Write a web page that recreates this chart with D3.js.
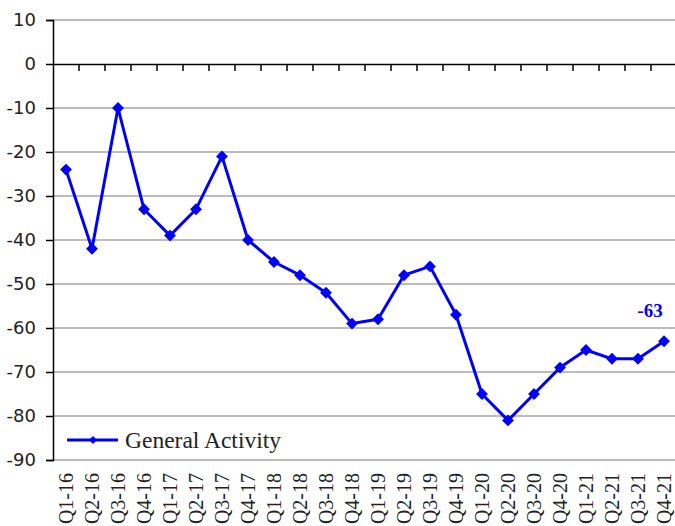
<!DOCTYPE html>
<html>
<head>
<meta charset="utf-8">
<script src="https://cdn.jsdelivr.net/npm/d3@7"></script>
<style>
  body { margin: 0; background: #fff; }
  svg { display: block; }
</style>
</head>
<body>
<div id="chart"></div>
<script>
const quarters = ["Q1-16", "Q2-16", "Q3-16", "Q4-16", "Q1-17", "Q2-17", "Q3-17", "Q4-17",
  "Q1-18", "Q2-18", "Q3-18", "Q4-18", "Q1-19", "Q2-19", "Q3-19", "Q4-19",
  "Q1-20", "Q2-20", "Q3-20", "Q4-20", "Q1-21", "Q2-21", "Q3-21", "Q4-21"];
const generalActivity = [-24, -42, -10, -33, -39, -33, -21, -40,
  -45, -48, -52, -59, -58, -48, -46, -57,
  -75, -81, -75, -69, -65, -67, -67, -63];
const yTicks = [10, 0, -10, -20, -30, -40, -50, -60, -70, -80, -90];
const seriesName = "General Activity";

const width = 675, height = 526;
const plotLeft = 53, plotTop = 20, plotBottom = 460;

const svg = d3.select("#chart").append("svg")
    .attr("width", width)
    .attr("height", height);

const x = d3.scaleBand().domain(quarters).range([plotLeft, plotLeft + 24 * 26]);
const y = d3.scaleLinear().domain([-90, 10]).range([plotBottom, plotTop]);

// gridlines
svg.append("g")
  .selectAll("line")
  .data(yTicks.filter(d => d !== 0))
  .join("line")
    .attr("x1", plotLeft).attr("x2", width)
    .attr("y1", d => y(d)).attr("y2", d => y(d))
    .attr("stroke", "#a6a6a6")
    .attr("stroke-width", 1.5);

// y axis
const yAxis = svg.append("g")
    .attr("transform", `translate(${plotLeft},0)`)
    .call(d3.axisLeft(y).tickValues(yTicks).tickSize(7).tickPadding(10).tickFormat(d => String(d)));
yAxis.select(".domain").attr("stroke", "#000").attr("stroke-width", 1.5);
yAxis.selectAll(".tick line").attr("stroke", "#000").attr("stroke-width", 1.5);
yAxis.selectAll("text")
    .attr("font-family", "DejaVu Sans")
    .attr("font-size", 18)
    .attr("fill", "#222");

// zero line with category ticks
const xAxis = svg.append("g")
    .attr("transform", `translate(0,${y(0)})`)
    .call(d3.axisBottom(x).tickSize(0).tickFormat(""));
xAxis.select(".domain").attr("stroke", "#000").attr("stroke-width", 1.5);
xAxis.selectAll(".tick").remove();
xAxis.selectAll("line.cat")
  .data(quarters.slice(1))
  .join("line")
    .attr("class", "cat")
    .attr("x1", d => x(d)).attr("x2", d => x(d))
    .attr("y1", 0).attr("y2", 7)
    .attr("stroke", "#000")
    .attr("stroke-width", 1.5);

// category labels at the bottom
svg.append("g")
  .selectAll("text")
  .data(quarters)
  .join("text")
    .attr("transform", d => `translate(${x(d) + x.bandwidth() / 2 + 7},${plotBottom + 13}) rotate(-90)`)
    .attr("text-anchor", "end")
    .attr("font-family", "Liberation Serif")
    .attr("font-size", 20)
    .attr("fill", "#222")
    .text(d => d);

// series
const cx = d => x(d) + x.bandwidth() / 2;
const line = d3.line()
    .x((d, i) => cx(quarters[i]))
    .y(d => y(d));

svg.append("path")
    .datum(generalActivity)
    .attr("fill", "none")
    .attr("stroke", "#0000ff")
    .attr("stroke-width", 3)
    .attr("stroke-linejoin", "round")
    .attr("d", line);

const diamond = d3.symbol().type(d3.symbolDiamond2).size(90);
svg.append("g")
  .selectAll("path")
  .data(generalActivity)
  .join("path")
    .attr("transform", (d, i) => `translate(${cx(quarters[i])},${y(d)})`)
    .attr("d", diamond)
    .attr("fill", "#0000ff");

// last value label
const last = generalActivity.length - 1;
svg.append("text")
    .attr("x", cx(quarters[last]) - 14)
    .attr("y", y(generalActivity[last]) - 24)
    .attr("text-anchor", "middle")
    .attr("font-family", "Liberation Serif")
    .attr("font-weight", "bold")
    .attr("font-size", 19)
    .attr("fill", "#0000ff")
    .text(generalActivity[last]);

// legend
const lg = svg.append("g").attr("transform", "translate(67,440)");
lg.append("line")
    .attr("x1", 0).attr("x2", 51)
    .attr("stroke", "#0000ff")
    .attr("stroke-width", 3);
lg.append("path")
    .attr("transform", "translate(26,0)")
    .attr("d", d3.symbol().type(d3.symbolDiamond2).size(40))
    .attr("fill", "#0000ff");
lg.append("text")
    .attr("x", 58)
    .attr("y", 8)
    .attr("font-family", "Liberation Serif")
    .attr("font-size", 23.5)
    .attr("fill", "#222")
    .text(seriesName);
</script>
</body>
</html>
